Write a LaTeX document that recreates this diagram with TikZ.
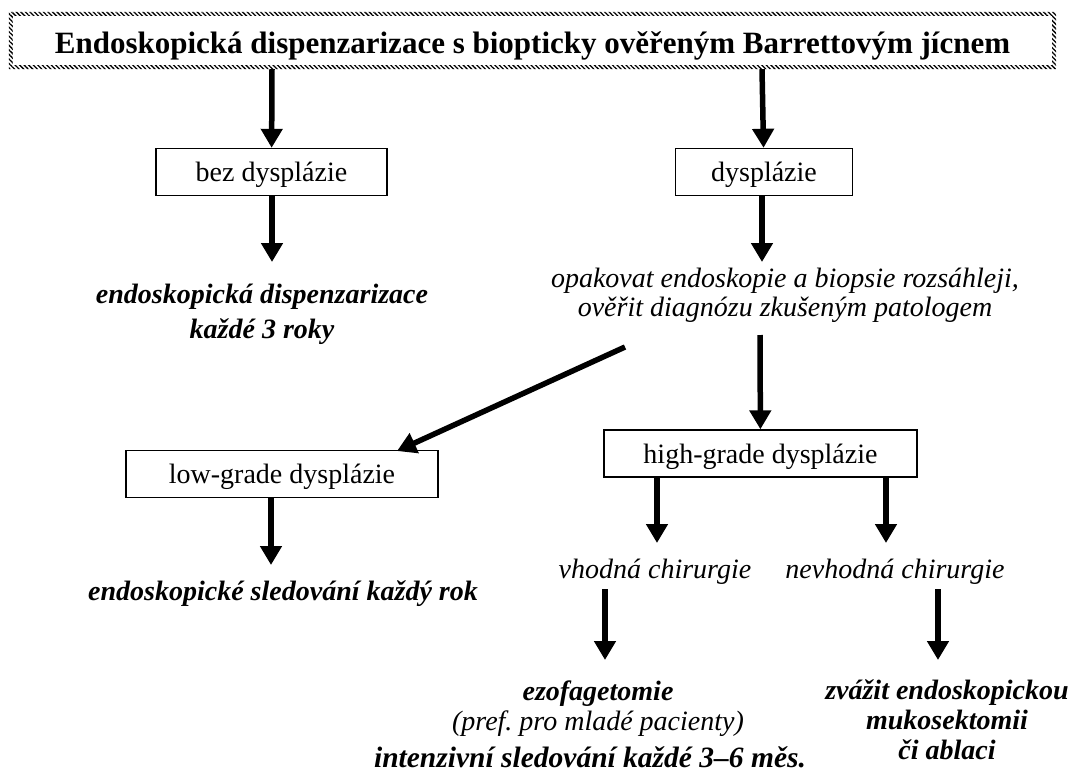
\documentclass[tikz,border=0pt]{standalone}
\usepackage{fontspec}
\setmainfont{Liberation Serif}
\usetikzlibrary{arrows.meta,patterns.meta}
\frenchspacing

\begin{document}
\begin{tikzpicture}[
		x=1pt, y=-1pt,
		every node/.style={inner sep=0pt, font=\fontsize{28}{34}\selectfont},
		box/.style={draw, line width=1.4pt, minimum height=47pt, text height=19pt, text depth=0pt},
		txt/.style={anchor=base, font=\fontsize{28}{34}\selectfont\itshape},
		res/.style={anchor=base, font=\fontsize{28}{34}\selectfont\bfseries\itshape},
		arr/.style={line width=5.5pt, -{Triangle[length=19pt, width=21pt]}}
	]
  \useasboundingbox (0,0) rectangle (1071,774);
  % title with hatched frame
  \node (t) [minimum width=1047pt, minimum height=57pt, text height=25pt, text depth=0pt,
    font=\fontsize{31}{36}\selectfont\bfseries] at (532.5, 40.5)
    {Endoskopická dispenzarizace s biopticky ověřeným Barrettovým jícnem};
  \fill [pattern={Lines[angle=-45, distance=3.2pt, line width=1.3pt]}, even odd rule]
    (t.north west) rectangle (t.south east)
    ([xshift=4pt, yshift=-4pt]t.north west) rectangle ([xshift=-4pt, yshift=4pt]t.south east);
  % boxes
  \node (bez) [box, minimum width=231pt] at (271.5, 172) {bez dysplázie};
  \node (dys) [box, minimum width=177pt] at (764, 172) {dysplázie};
  \node (low) [box, minimum width=312pt] at (282, 474) {low-grade dysplázie};
  \node (high) [box, minimum width=313pt] at (760.5, 453.5) {high-grade dysplázie};
  % texts
  \node (bez_a) [res] at (262, 303) {endoskopická dispenzarizace};
  \node (bez_b) [res] at (262, 338) {každé 3 roky};
  \node (dys_a) [txt] at (785, 287) {opakovat endoskopie a biopsie rozsáhleji,};
  \node (dys_b) [txt] at (785, 316) {ověřit diagnózu zkušeným patologem};
  \node (low_a) [res] at (283, 600) {endoskopické sledování každý rok};
  \node (vh) [txt] at (655, 578) {vhodná chirurgie};
  \node (nvh) [txt] at (895, 578) {nevhodná chirurgie};
  \node (ezo) [res] at (598, 700) {ezofagetomie};
  \node (ezo_b) [txt] at (598, 730) {(pref. pro mladé pacienty)};
  \node (ezo_c) [res, font=\fontsize{29.5}{34}\selectfont\bfseries\itshape] at (590, 767)
    {intenzivní sledování každé 3–6 měs.};
  \node (zv) [res] at (947, 699) {zvážit endoskopickou};
  \node (zv_b) [res] at (947, 729) {mukosektomii};
  \node (zv_c) [res] at (947, 759) {či ablaci};
  % arrow ends
  \coordinate (bez_tip) at (272, 262);
  \coordinate (dys_tip) at (762, 262);
  \coordinate (dys_l) at (625, 347);
  \coordinate (dys_r) at (760, 335);
  \coordinate (low_tip) at (397, 451);
  \coordinate (low_end) at (271, 565);
  \coordinate (vh_tip) at (657, 543);
  \coordinate (nvh_tip) at (886, 543);
  \coordinate (vh_top) at (605, 589);
  \coordinate (ezo_tip) at (605, 660);
  \coordinate (nvh_top) at (938, 589);
  \coordinate (zv_tip) at (938, 660);
  % arrows
  \draw [arr] (t.south -| bez_tip) -- (bez);
  \draw [arr] (t.south -| dys_tip) -- (dys);
  \draw [arr] (bez.south -| bez_tip) -- (bez_tip);
  \draw [arr] (dys.south -| dys_tip) -- (dys_tip);
  \draw [arr] (dys_l) -- (low_tip);
  \draw [arr] (dys_r) -- (high);
  \draw [arr] (high.south -| vh_tip) -- (vh_tip);
  \draw [arr] (high.south -| nvh_tip) -- (nvh_tip);
  \draw [arr] (low.south -| low_end) -- (low_end);
  \draw [arr] (vh_top) -- (ezo_tip);
  \draw [arr] (nvh_top) -- (zv_tip);
\end{tikzpicture}
\end{document}
